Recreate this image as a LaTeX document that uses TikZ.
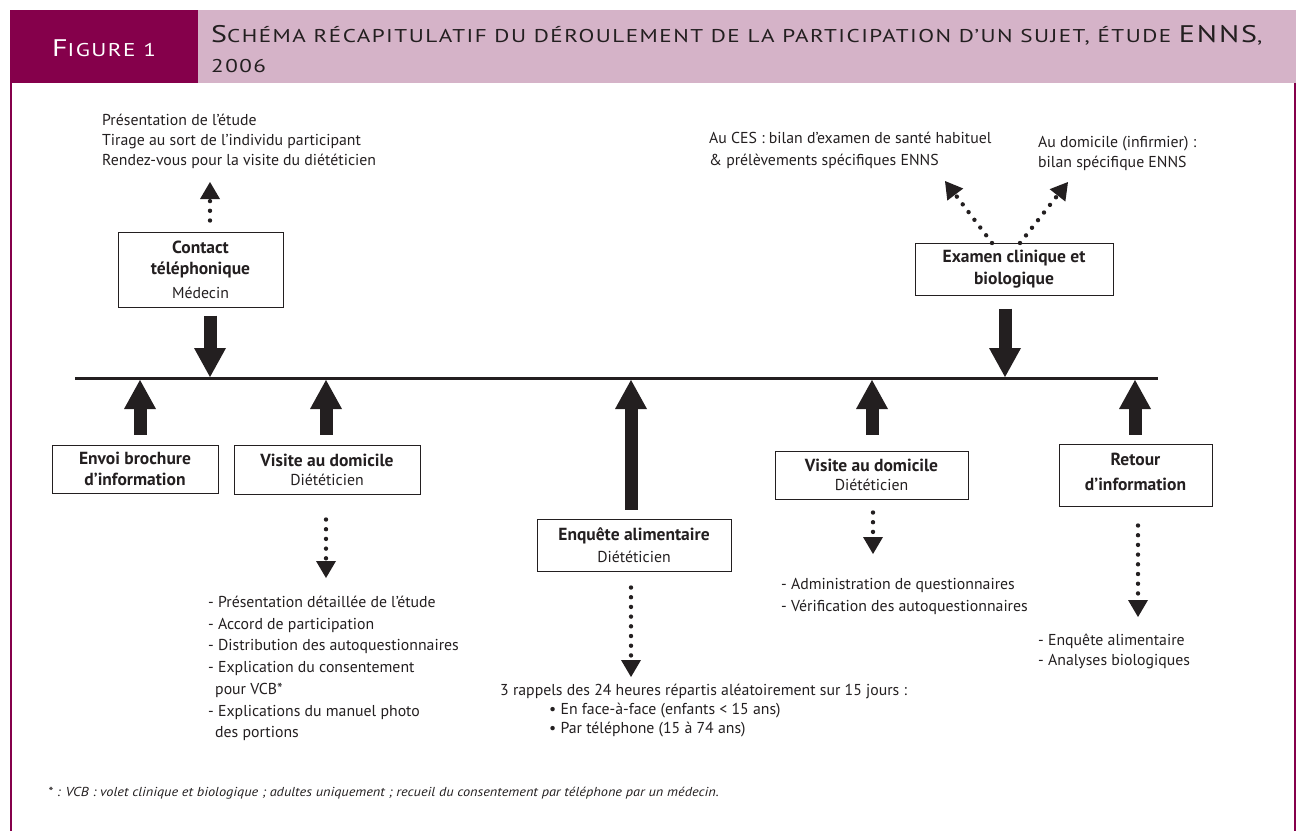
\documentclass[tikz,border=0pt]{standalone}
\usepackage{fontspec}
\setmainfont{PT Sans}
\newfontfamily\titlefont{PT Sans}[FakeStretch=1.25,LetterSpace=8]
\newfontfamily\footfont{PT Sans}[FakeStretch=1.1]
\usetikzlibrary{arrows.meta}
\definecolor{figc}{HTML}{85004B}
\definecolor{bandc}{HTML}{D5B3C8}
\definecolor{ink}{HTML}{231F20}
\newcommand\bigsc[1]{{\fontsize{24}{31}\selectfont #1}}
\newcommand\smsc[1]{{\fontsize{18.5}{31}\selectfont #1}}
\newcommand\bt[1]{{\fontsize{17.5}{21}\selectfont\bfseries #1}}
\tikzset{
  box/.style={draw=ink, line width=1pt, align=center, inner sep=0pt, text=ink,
    font=\fontsize{15.8}{21}\selectfont},
  bigarrow/.style={draw=ink, line width=13pt, -{Triangle[width=32pt,length=29pt,line width=0pt]}},
  dotarrow/.style={draw=ink, line width=4.4pt, line cap=round, dash pattern=on 0pt off 9.7pt,
    -{Triangle[width=20pt,length=17pt,line width=0pt]}},
  txt/.style={align=left, anchor=north west, inner sep=0pt, text=ink,
    font=\fontsize{15.8}{20}\selectfont},
}
\begin{document}
\begin{tikzpicture}[x=1pt,y=-1pt]
\useasboundingbox (0,0) rectangle (1300,831);
% header and frame
\fill[bandc] (198,10) rectangle (1296,83);
\fill[figc] (10,10) rectangle (198,83);
\draw[figc, line width=1.6pt] (10.8,83) -- (10.8,831);
\draw[figc, line width=1.6pt] (1295,83) -- (1295,831);
\node[text=white, inner sep=0pt, font=\titlefont] (fig) at (104,48) {\bigsc{F}\smsc{IGURE 1}};
\node[text=ink, anchor=north west, align=left, inner sep=0pt, font=\titlefont\fontsize{18.5}{30}\selectfont] (title) at (211,25)
  {\bigsc{S}\smsc{CHÉMA RÉCAPITULATIF DU DÉROULEMENT DE LA PARTICIPATION D’UN SUJET, ÉTUDE }\bigsc{ENNS}\smsc{,}\\\smsc{2006}};

% timeline
\coordinate (tlA) at (75,378.5);
\coordinate (tlB) at (1158,378.5);
\draw[ink, line width=3pt] (tlA) -- (tlB);

% boxes
\node[box, minimum width=165pt, minimum height=75pt] (contact) at (200.5,269.5)
  {\bt{Contact}\\\bt{téléphonique}\\[3pt]Médecin};
\node[box, minimum width=198pt, minimum height=52pt] (examen) at (1014,269)
  {\bt{Examen clinique et}\\[1pt]\bt{biologique}};
\node[box, minimum width=166pt, minimum height=48pt] (envoi) at (135,469)
  {\bt{Envoi brochure}\\\bt{d’information}};
\node[box, minimum width=186pt, minimum height=49pt] (visA) at (327,469.5)
  {\bt{Visite au domicile}\\[-2pt]Diététicien};
\node[box, minimum width=194pt, minimum height=52pt] (enq) at (634,545)
  {\bt{Enquête alimentaire}\\[1pt]Diététicien};
\node[box, minimum width=193pt, minimum height=48pt] (visB) at (871.5,475)
  {\bt{Visite au domicile}\\[-2pt]Diététicien};
\node[box, minimum width=153pt, minimum height=62pt] (retour) at (1135.5,475)
  {\bt{Retour}\\[4pt]\bt{d’information}\\[-14pt]\mbox{}};

% timeline points
\coordinate (pC) at (210,377);
\coordinate (pX) at (1005,377);
\coordinate (p1) at (140,380);
\coordinate (p2) at (326,380);
\coordinate (p3) at (631,380);
\coordinate (p4) at (872,380);
\coordinate (p5) at (1135,380);

% big arrows
\draw[bigarrow, shorten <=8pt] (contact.south -| pC) -- (pC);
\draw[bigarrow, shorten <=13pt] (examen.south -| pX) -- (pX);
\draw[bigarrow, shorten <=10pt] (envoi.north -| p1) -- (p1);
\draw[bigarrow, shorten <=10pt] (visA.north -| p2) -- (p2);
\draw[bigarrow, shorten <=9pt] (enq.north -| p3) -- (p3);
\draw[bigarrow, shorten <=16pt] (visB.north -| p4) -- (p4);
\draw[bigarrow, shorten <=9pt] (retour.north -| p5) -- (p5);

% dotted arrows ends
\coordinate (dC) at (210,182);
\coordinate (dXa) at (945,181);
\coordinate (dXb) at (1068,182);
\coordinate (d2) at (326,578);
\coordinate (d3) at (631,677);
\coordinate (d4) at (873,554);
\coordinate (d5) at (1138,617);
\coordinate (sXa) at (992,243);
\coordinate (sXb) at (1020,243);

\draw[dotarrow, shorten <=11pt] (contact.north -| dC) -- (dC);
\draw[dotarrow] (sXa) -- (dXa);
\draw[dotarrow] (sXb) -- (dXb);
\draw[dotarrow, shorten <=25pt] (visA.south -| d2) -- (d2);
\draw[dotarrow, shorten <=16pt] (enq.south -| d3) -- (d3);
\draw[dotarrow, shorten <=13pt] (visB.south -| d4) -- (d4);
\draw[dotarrow, shorten <=19pt] (retour.south -| d5) -- (d5);

% texts
\node[txt] (tTop) at (102,114)
  {Présentation de l’étude\\Tirage au sort de l’individu participant\\Rendez-vous pour la visite du diététicien};
\node[txt, font=\fontsize{15.8}{21.5}\selectfont] (tCES) at (709,132)
  {Au CES : bilan d’examen de santé habituel\\\& prélèvements spécifiques ENNS};
\node[txt, font=\fontsize{15.8}{20.5}\selectfont] (tDom) at (1038,136)
  {Au domicile (infirmier) :\\bilan spécifique ENNS};
\node[txt, font=\fontsize{15.8}{21.7}\selectfont] (tVisA) at (208,596)
  {- Présentation détaillée de l’étude\\- Accord de participation\\- Distribution des autoquestionnaires\\- Explication du consentement\\\hspace*{7pt}pour VCB*\\- Explications du manuel photo\\\hspace*{7pt}des portions};
\node[txt, font=\fontsize{15.8}{19}\selectfont] (tEnq) at (500,684)
  {3 rappels des 24 heures répartis aléatoirement sur 15 jours :\\\hspace*{49pt}• En face-à-face (enfants < 15 ans)\\\hspace*{49pt}• Par téléphone (15 à 74 ans)};
\node[txt, font=\fontsize{15.8}{22}\selectfont] (tVisB) at (781,578)
  {- Administration de questionnaires\\- Vérification des autoquestionnaires};
\node[txt, font=\fontsize{15.8}{19.5}\selectfont] (tRet) at (1038,634)
  {- Enquête alimentaire\\- Analyses biologiques};
\node[txt, font=\footfont\fontsize{13}{16}\selectfont\itshape] (foot) at (48,787)
  {* : VCB : volet clinique et biologique ; adultes uniquement ; recueil du consentement par téléphone par un médecin.};
\end{tikzpicture}
\end{document}
